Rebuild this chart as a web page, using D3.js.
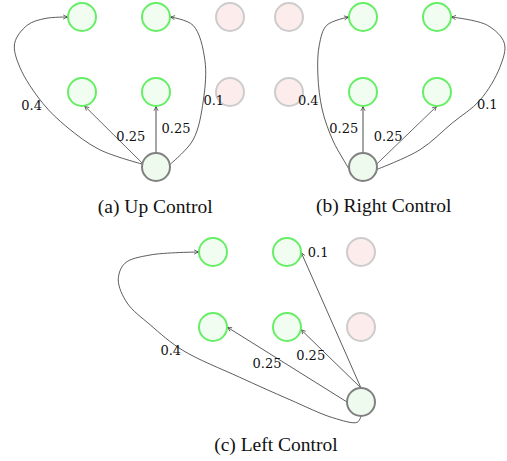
<!DOCTYPE html>
<html>
<head>
<meta charset="utf-8">
<script src="https://cdn.jsdelivr.net/npm/d3@7"></script>
<style>
  body { margin: 0; background: #fff; }
  svg { display: block; }
</style>
</head>
<body>
<svg id="chart" width="507" height="461"></svg>
<script>
// three panels, each a 3x3 grid of cells (col, row)
var captions = ['(a) Up Control', '(b) Right Control', '(c) Left Control'];
var panel_origin = [[82, 17], [289, 17], [213, 252]];
var caption_pos = [[0.99, 2.61], [1.28, 2.60], [0.85, 2.65]];

// cell state per panel: 'g' reachable, 'p' blocked
var cells_a = [['g', 'g', 'p'], ['g', 'g', 'p']];
var cells_b = [['p', 'g', 'g'], ['p', 'g', 'g']];
var cells_c = [['g', 'g', 'p'], ['g', 'g', 'p']];
var sources = [[1, 2], [1, 2], [2, 2]];

// transitions: target cell and probability
var edges_a = [
  {to: [1, 1], p: 0.25}, {to: [0, 1], p: 0.25},
  {to: [0, 0], p: 0.4}, {to: [1, 0], p: 0.1}
];
var edges_b = [
  {to: [1, 1], p: 0.25}, {to: [2, 1], p: 0.25},
  {to: [1, 0], p: 0.4}, {to: [2, 0], p: 0.1}
];
var edges_c = [
  {to: [0, 1], p: 0.25}, {to: [1, 1], p: 0.25},
  {to: [1, 0], p: 0.1}, {to: [0, 0], p: 0.4}
];

// drawing style for each edge (ports in degrees, bends and label spots in grid units)
var edge_style = [
  [
    {from_port: 90, to_port: -90, color: '#888', width: 1.5, label: [1.27, 1.55]},
    {from_port: 165, to_port: -80, color: '#444', width: 0.8, label: [0.66, 1.65]},
    {from_port: 168, to_port: 180, color: '#333', width: 0.8, label: [-0.68, 1.24],
     bend: [[0.24, 1.77], [-0.2, 1.47], [-0.53, 1.15], [-0.84, 0.67], [-0.91, 0.35], [-0.74, 0.11], [-0.5, 0.02]]},
    {from_port: 10, to_port: 0, color: '#333', width: 0.8, label: [1.78, 1.17],
     bend: [[1.5, 1.64], [1.64, 1.11], [1.66, 0.57], [1.5, 0.11]]}
  ],
  [
    {from_port: 90, to_port: -90, color: '#888', width: 1.5, label: [0.74, 1.55]},
    {from_port: 12, to_port: -90, color: '#444', width: 0.8, label: [1.34, 1.65]},
    {from_port: 190, to_port: 180, color: '#333', width: 0.8, label: [0.26, 1.17],
     bend: [[0.74, 1.91], [0.59, 1.64], [0.45, 1.24], [0.39, 0.77], [0.41, 0.37], [0.51, 0.11]]},
    {from_port: -10, to_port: 0, color: '#333', width: 0.8, label: [2.68, 1.23],
     bend: [[1.77, 1.77], [2.21, 1.41], [2.58, 1.11], [2.85, 0.67], [2.91, 0.35], [2.68, 0.11]]}
  ],
  [
    {from_port: 180, to_port: 0, color: '#333', width: 0.8, label: [0.73, 1.55]},
    {from_port: 90, to_port: -10, color: '#333', width: 0.8, label: [1.32, 1.44]},
    {from_port: 90, to_port: 0, color: '#333', width: 0.8, label: [1.42, 0.07]},
    {from_port: -90, to_port: 180, color: '#333', width: 0.8, label: [-0.57, 1.37],
     bend: [[1.95, 2.27], [1.62, 2.21], [1.04, 1.97], [0.36, 1.67], [-0.41, 1.31], [-0.85, 0.97],
            [-1.16, 0.68], [-1.28, 0.37], [-1.19, 0.15], [-0.85, 0.04]]}
  ]
];

var cells = [cells_a, cells_b, cells_c];
var edges = [edges_a, edges_b, edges_c];

var radius = 14;
var col_step = 74;
var row_step = 75;

var svg = d3.select('#chart');

svg.append('defs').append('marker')
   .attr('id', 'arrow')
   .attr('viewBox', '0 0 10 10')
   .attr('refX', 9)
   .attr('refY', 5)
   .attr('markerWidth', 6)
   .attr('markerHeight', 6)
   .attr('markerUnits', 'userSpaceOnUse')
   .attr('orient', 'auto')
   .append('path')
   .attr('d', 'M1,1.5 Q5,4 9,5 Q5,6 1,8.5')
   .attr('fill', 'none')
   .attr('stroke', '#222')
   .attr('stroke-width', 1.1);

function port(cx, cy, deg){
    var a = deg * Math.PI / 180;
    return [cx + radius * Math.cos(a), cy - radius * Math.sin(a)];
}

captions.forEach(function(caption, k){
    var x = d3.scaleLinear().domain([0, 2]).range([panel_origin[k][0], panel_origin[k][0] + 2 * col_step]);
    var y = d3.scaleLinear().domain([0, 2]).range([panel_origin[k][1], panel_origin[k][1] + 2 * row_step]);
    var g = svg.append('g');

    var src = sources[k];
    var sx = x(src[0]), sy = y(src[1]);

    // edges first so circles sit on top
    edges[k].forEach(function(e, i){
        var st = edge_style[k][i];
        var tx = x(e.to[0]), ty = y(e.to[1]);
        var p0 = port(sx, sy, st.from_port);
        var p1 = port(tx, ty, st.to_port);
        var pts = [p0];
        if (st.bend){
            st.bend.forEach(function(b){ pts.push([x(b[0]), y(b[1])]); });
        }
        pts.push(p1);
        var line = d3.line().curve(st.bend ? d3.curveCatmullRom.alpha(0.5) : d3.curveLinear);
        g.append('path')
         .attr('d', line(pts))
         .attr('fill', 'none')
         .attr('stroke', st.color)
         .attr('stroke-width', st.width)
         .attr('marker-end', 'url(#arrow)');
    });

    var nodes = [];
    cells[k].forEach(function(row, r){
        row.forEach(function(s, c){ nodes.push({c: c, r: r, s: s}); });
    });

    g.selectAll('circle.cell')
     .data(nodes)
     .enter()
     .append('circle')
     .attr('cx', function(d){ return x(d.c); })
     .attr('cy', function(d){ return y(d.r); })
     .attr('r', radius)
     .attr('fill', function(d){ return d.s == 'g' ? '#f1fdf1' : '#fcecec'; })
     .attr('stroke', function(d){ return d.s == 'g' ? '#66ee66' : '#cccccc'; })
     .attr('stroke-width', 2);

    g.append('circle')
     .attr('cx', sx)
     .attr('cy', sy)
     .attr('r', radius)
     .attr('fill', '#eefaee')
     .attr('stroke', '#808080')
     .attr('stroke-width', 2);

    // probability labels on top
    edges[k].forEach(function(e, i){
        var st = edge_style[k][i];
        g.append('text')
         .text(e.p)
         .attr('x', x(st.label[0]))
         .attr('y', y(st.label[1]))
         .attr('text-anchor', 'middle')
         .attr('font-family', 'DejaVu Serif')
         .attr('font-size', 13)
         .attr('fill', '#111');
    });

    g.append('text')
     .text(caption)
     .attr('x', x(caption_pos[k][0]))
     .attr('y', y(caption_pos[k][1]))
     .attr('text-anchor', 'middle')
     .attr('font-family', 'Liberation Serif')
     .attr('font-size', 19.5)
     .attr('fill', '#111');
});
</script>
</body>
</html>
